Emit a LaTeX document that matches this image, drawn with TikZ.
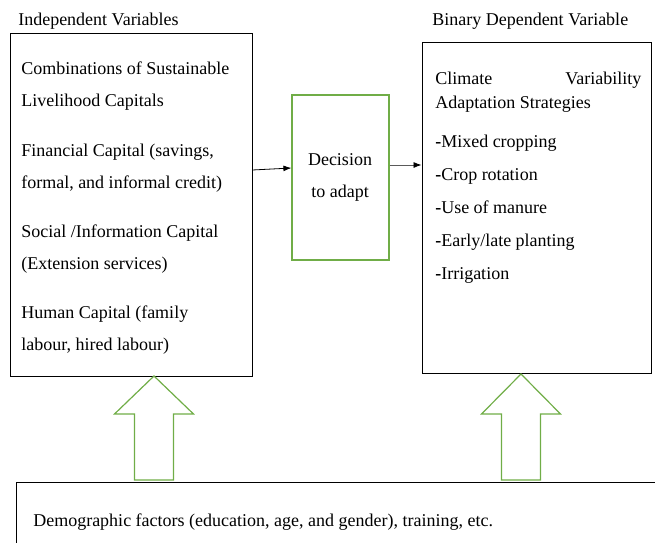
\documentclass[tikz,border=0pt]{standalone}
\usepackage{fontspec}
\setmainfont{Liberation Serif}
\usepackage{xcolor}
\usetikzlibrary{arrows.meta, positioning, fit}
\definecolor{boxgreen}{RGB}{112,173,71}
\definecolor{linkgray}{RGB}{90,90,90}

\tikzset{
  txt/.style={anchor=west, inner sep=0pt, text height=1.6ex, text depth=0.4ex},
  ctxt/.style={txt, anchor=center},
  box/.style={draw=black, line width=0.7pt, inner sep=0pt},
  greenbox/.style={draw=boxgreen, line width=0.9pt, inner sep=0pt},
  uparrow/.style={draw=boxgreen, line width=0.9pt, line join=miter},
  link/.style={-{Latex[length=6pt,width=4.5pt,color=black]}, line width=0.6pt}
}

\begin{document}
\begin{tikzpicture}[x=0.75pt, y=-0.75pt, font=\fontsize{13.5}{16}\selectfont]
  \path[use as bounding box, clip] (0,0) rectangle (655,542);

  % boxes
  \node[box, fit={(10,33) (252,376)}] (indep) {};
  \node[box, fit={(422,42) (651,373)}] (binary) {};
  \node[greenbox, fit={(292,95) (389,260)}] (decide) {};
  \node[box, fit={(16,482) (700,600)}] (demog) {};

  % headings
  \node[txt] (indephead) at (18,22) {Independent Variables};
  \node[txt] (binhead) at (432,22) {Binary Dependent Variable};

  % independent variables
  \foreach \y/\t in {71/{Combinations of Sustainable}, 103/{Livelihood Capitals},
      153/{Financial Capital (savings,}, 185/{formal, and informal credit)},
      234/{Social /Information Capital}, 266/{(Extension services)},
      315/{Human Capital (family}, 347/{labour, hired labour)}}
    \node[txt] (iv\y) at (21,\y) {\t};

  % adaptation strategies
  \node[txt, text width=154.5pt] (clim) at (435,81) {Climate\hfill Variability};
  \node[txt] (adapt) at (435,105) {Adaptation Strategies};
  \foreach \y/\t in {144/{Mixed cropping}, 177/{Crop rotation}, 210/{Use of manure},
      243/{Early/late planting}, 276/{Irrigation}}
    \node[txt] (st\y) at (435,\y) {\textbf{-}\t};

  % decision
  \node[ctxt] (dec1) at (340,162) {Decision};
  \node[ctxt] (dec2) at (340,194) {to adapt};

  \draw[link] (indep.east |- 0,170) -- (decide.west |- 0,168);
  \draw[link, draw=linkgray] (decide.east |- 0,165) -- (binary.west |- 0,165);

  % block arrows
  \foreach \cx/\ty in {154/376, 521/374}
    \draw[uparrow] ({\cx-19.5},480) -- ({\cx-19.5},414) -- ({\cx-39.5},414)
      -- (\cx,\ty) -- ({\cx+39.5},414) -- ({\cx+19.5},414) -- ({\cx+19.5},480) -- cycle;

  \node[txt] (demotext) at (33,523) {Demographic factors (education, age, and gender), training, etc.};
\end{tikzpicture}
\end{document}
